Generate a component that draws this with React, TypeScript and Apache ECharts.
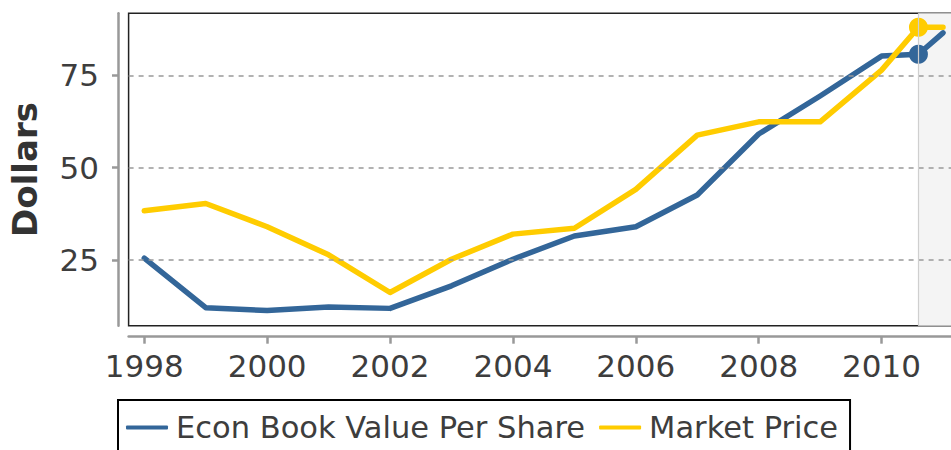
import React, { useEffect, useRef } from "react";
import * as echarts from "echarts";

const years = [1998, 1999, 2000, 2001, 2002, 2003, 2004, 2005, 2006, 2007, 2008, 2009, 2010, 2010.6, 2011];
const bookValue = [25.5, 12.1, 11.3, 12.3, 11.9, 18.0, 25.2, 31.5, 34.0, 42.6, 59.1, 69.4, 80.2, 80.7, 86.5];
const marketPrice = [38.3, 40.3, 34.0, 26.4, 16.2, 25.2, 32.0, 33.6, 44.1, 58.8, 62.4, 62.4, 76.4, 88.0, 88.0];
const markerIndex = 13;
const xTicks = [1998, 2000, 2002, 2004, 2006, 2008, 2010];
const yTicks = [25, 50, 75];
const seriesNames = ["Econ Book Value Per Share", "Market Price"];
const shadeStart = 2010.6;

const X_MIN = 1997.745;
const X_MAX = 2011.13;
const Y_MIN = 7.21;
const Y_MAX = 91.78;

const FONT = "'DejaVu Sans', Verdana, sans-serif";

function buildData(vals: number[]) {
  return years.map((x, i) =>
    i === markerIndex ? { value: [x, vals[i]], symbolSize: 19 } : { value: [x, vals[i]] }
  );
}

export default function App() {
  const ref = useRef<HTMLDivElement>(null);
  useEffect(() => {
    if (!ref.current) return;
    const chart = echarts.init(ref.current, undefined, { renderer: "svg" });
    const axisColor = "#999";
    const textColor = "#3d3d3d";
    chart.setOption({
      animation: false,
      grid: {
        left: 128.3,
        top: 13.3,
        height: 312.4,
        right: -2,
        show: true,
        borderColor: "#222",
        borderWidth: 1.5,
        backgroundColor: "#fff",
      },
      legend: {
        data: seriesNames,
        left: 118,
        top: 400,
        padding: [12, 12, 20, 8],
        borderColor: "#000",
        borderWidth: 2,
        itemWidth: 42,
        itemHeight: 4,
        itemGap: 14,
        icon: "roundRect",
        textStyle: { fontFamily: FONT, fontSize: 30.5, color: textColor, padding: [0, 0, 0, 3] },
      },
      xAxis: {
        type: "value",
        min: X_MIN,
        max: X_MAX,
        offset: 11,
        axisLine: { show: true, lineStyle: { color: axisColor, width: 2.5 } },
        axisTick: { show: true, customValues: xTicks, length: 7, lineStyle: { color: axisColor, width: 2.5 } },
        axisLabel: {
          customValues: xTicks,
          fontFamily: FONT,
          fontSize: 31,
          color: textColor,
          margin: 14,
          formatter: (v: number) => String(Math.round(v)),
        },
        splitLine: { show: false },
      },
      yAxis: {
        type: "value",
        min: Y_MIN,
        max: Y_MAX,
        offset: 10.6,
        name: "Dollars",
        nameLocation: "middle",
        nameGap: 76,
        nameTextStyle: { fontFamily: FONT, fontSize: 34, fontWeight: "bold", color: "#333" },
        axisLine: { show: true, lineStyle: { color: axisColor, width: 2.5 } },
        axisTick: { show: true, customValues: yTicks, length: 6, lineStyle: { color: axisColor, width: 2.5 } },
        axisLabel: {
          customValues: yTicks,
          fontFamily: FONT,
          fontSize: 31,
          color: textColor,
          margin: 19,
        },
        splitLine: { show: false },
      },
      series: [
        {
          type: "line",
          name: "__bg",
          z: 1,
          silent: true,
          data: [[years[0], bookValue[0]]],
          symbol: "none",
          lineStyle: { opacity: 0 },
          markArea: {
            silent: true,
            itemStyle: { color: "#f4f4f4" },
            data: [[{ xAxis: shadeStart }, { xAxis: X_MAX }]],
          },
          markLine: {
            silent: true,
            symbol: "none",
            label: { show: false },
            data: [
              ...yTicks.map((v) => ({
                yAxis: v,
                lineStyle: { color: "#999", width: 1.5, type: [5, 5] },
              })),
              { xAxis: shadeStart, lineStyle: { color: "#cfcfcf", width: 1.2, type: "solid" } },
            ],
          },
        },
        {
          type: "line",
          name: seriesNames[0],
          z: 3,
          data: buildData(bookValue),
          symbol: "circle",
          symbolSize: 0,
          showSymbol: true,
          color: "#336699",
          lineStyle: { color: "#336699", width: 5.5, cap: "round", join: "round" },
          itemStyle: { color: "#336699" },
        },
        {
          type: "line",
          name: seriesNames[1],
          z: 3,
          data: buildData(marketPrice),
          symbol: "circle",
          symbolSize: 0,
          showSymbol: true,
          color: "#FFCC00",
          lineStyle: { color: "#FFCC00", width: 5.5, cap: "round", join: "round" },
          itemStyle: { color: "#FFCC00" },
        },
      ],
    });
    return () => chart.dispose();
  }, []);
  return (
    <div
      ref={ref}
      style={{ position: "absolute", left: 0, top: 0, width: 951, height: 450 }}
    />
  );
}
